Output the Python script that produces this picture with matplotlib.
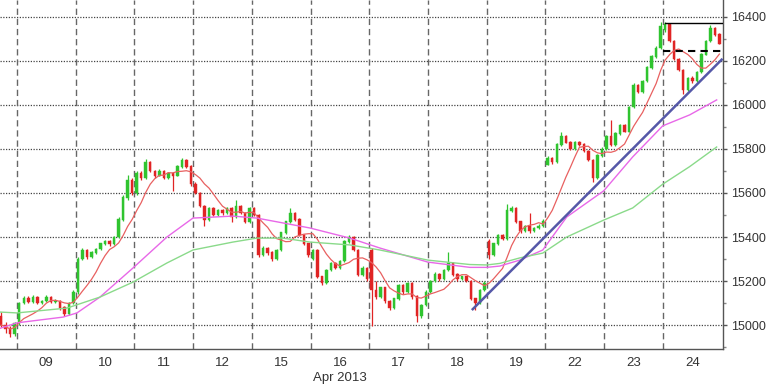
import matplotlib
matplotlib.use("Agg")
import matplotlib.pyplot as plt
import numpy as np
import pandas as pd

# ---------------- data (30-minute bars) ----------------
day_labels = ["09", "10", "11", "12", "15", "16\nApr 2013", "17", "18", "19", "22", "23", "24"]

# partial day before the 9th
o_08 = [15040, 15000, 14985, 14960]
c_08 = [15000, 14985, 14960, 15010]
h_08 = [15060, 15015, 14995, 15015]
l_08 = [14990, 14965, 14945, 14950]

o_09 = [15010, 15100, 15120, 15105, 15125, 15100, 15110, 15125, 15105, 15110, 15080, 15050, 15100]
c_09 = [15100, 15120, 15105, 15125, 15100, 15110, 15125, 15105, 15110, 15080, 15050, 15100, 15150]
h_09 = [15105, 15130, 15130, 15135, 15130, 15115, 15135, 15130, 15120, 15115, 15085, 15105, 15160]
l_09 = [15000, 15095, 15100, 15100, 15095, 15095, 15105, 15100, 15100, 15070, 15040, 15045, 15095]

o_10 = [15150, 15300, 15340, 15310, 15330, 15345, 15370, 15380, 15370, 15400, 15480, 15580, 15660]
c_10 = [15300, 15340, 15310, 15330, 15345, 15370, 15380, 15370, 15400, 15480, 15580, 15660, 15600]
h_10 = [15310, 15350, 15345, 15335, 15350, 15375, 15385, 15385, 15405, 15490, 15590, 15680, 15670]
l_10 = [15140, 15295, 15300, 15305, 15325, 15340, 15365, 15360, 15365, 15395, 15475, 15570, 15590]

o_11 = [15600, 15690, 15670, 15740, 15700, 15680, 15700, 15670, 15690, 15680, 15720, 15750, 15720]
c_11 = [15690, 15670, 15740, 15700, 15680, 15700, 15670, 15690, 15680, 15720, 15750, 15720, 15640]
h_11 = [15700, 15700, 15755, 15745, 15705, 15710, 15705, 15695, 15695, 15725, 15760, 15755, 15725]
l_11 = [15590, 15660, 15665, 15695, 15670, 15675, 15665, 15665, 15610, 15675, 15715, 15715, 15630]

o_12 = [15640, 15600, 15540, 15480, 15530, 15500, 15520, 15510, 15530, 15490, 15540, 15510, 15470]
c_12 = [15600, 15540, 15480, 15530, 15500, 15520, 15510, 15530, 15490, 15540, 15510, 15470, 15530]
h_12 = [15650, 15605, 15545, 15535, 15535, 15525, 15525, 15535, 15535, 15570, 15545, 15515, 15535]
l_12 = [15595, 15535, 15450, 15475, 15495, 15495, 15500, 15505, 15470, 15485, 15505, 15465, 15465]

o_15 = [15530, 15500, 15320, 15350, 15330, 15300, 15340, 15420, 15470, 15510, 15480, 15410, 15370]
c_15 = [15500, 15320, 15350, 15330, 15300, 15340, 15420, 15470, 15510, 15480, 15410, 15370, 15320]
h_15 = [15535, 15505, 15360, 15355, 15335, 15345, 15425, 15475, 15530, 15515, 15485, 15415, 15375]
l_15 = [15495, 15310, 15315, 15320, 15290, 15295, 15335, 15415, 15465, 15475, 15405, 15365, 15310]

o_16 = [15300, 15340, 15220, 15190, 15250, 15280, 15260, 15290, 15380, 15400, 15340, 15230, 15260]
c_16 = [15340, 15220, 15190, 15250, 15280, 15260, 15290, 15380, 15400, 15340, 15230, 15260, 15210]
h_16 = [15345, 15345, 15225, 15255, 15285, 15285, 15295, 15385, 15410, 15405, 15345, 15270, 15265]
l_16 = [15295, 15215, 15180, 15185, 15245, 15255, 15255, 15285, 15375, 15335, 15225, 15225, 15200]

o_17 = [15340, 15160, 15130, 15170, 15110, 15080, 15120, 15180, 15150, 15190, 15130, 15040, 15090]
c_17 = [15160, 15130, 15170, 15110, 15080, 15120, 15180, 15150, 15190, 15130, 15040, 15090, 15150]
h_17 = [15350, 15200, 15175, 15175, 15115, 15125, 15185, 15185, 15195, 15195, 15135, 15095, 15160]
l_17 = [14995, 15120, 15125, 15100, 15070, 15075, 15115, 15140, 15145, 15120, 15015, 15030, 15085]

o_18 = [15150, 15200, 15230, 15210, 15250, 15280, 15230, 15210, 15220, 15200, 15120, 15100, 15160]
c_18 = [15200, 15230, 15210, 15250, 15280, 15230, 15210, 15220, 15200, 15120, 15100, 15160, 15190]
h_18 = [15205, 15240, 15235, 15255, 15330, 15285, 15235, 15225, 15225, 15205, 15125, 15165, 15200]
l_18 = [15145, 15195, 15200, 15205, 15245, 15225, 15200, 15205, 15195, 15115, 15070, 15095, 15155]

o_19 = [15380, 15320, 15370, 15410, 15390, 15520, 15530, 15470, 15430, 15450, 15430, 15440, 15450]
c_19 = [15320, 15370, 15410, 15390, 15520, 15530, 15470, 15430, 15450, 15430, 15440, 15450, 15470]
h_19 = [15390, 15375, 15415, 15415, 15550, 15540, 15535, 15475, 15455, 15510, 15445, 15460, 15480]
l_19 = [15300, 15315, 15365, 15385, 15385, 15515, 15465, 15420, 15425, 15420, 15425, 15435, 15445]

o_22 = [15730, 15760, 15740, 15820, 15860, 15830, 15800, 15830, 15820, 15790, 15750, 15670, 15770]
c_22 = [15760, 15740, 15820, 15860, 15830, 15800, 15830, 15820, 15790, 15750, 15670, 15770, 15800]
h_22 = [15770, 15765, 15825, 15875, 15865, 15835, 15835, 15835, 15825, 15795, 15755, 15775, 15810]
l_22 = [15725, 15730, 15735, 15815, 15825, 15795, 15795, 15815, 15785, 15745, 15650, 15665, 15765]

o_23 = [15800, 15860, 15820, 15870, 15910, 15880, 15990, 16090, 16060, 16110, 16170, 16220, 16260]
c_23 = [15860, 15820, 15870, 15910, 15880, 15990, 16090, 16060, 16110, 16170, 16220, 16260, 16360]
h_23 = [15865, 15930, 15875, 15915, 15915, 15995, 16100, 16095, 16115, 16175, 16225, 16270, 16375]
l_23 = [15795, 15815, 15815, 15865, 15875, 15875, 15985, 16055, 16055, 16105, 16165, 16215, 16255]

o_24 = [16340, 16365, 16290, 16210, 16160, 16070, 16120, 16110, 16150, 16230, 16290, 16350, 16320]
c_24 = [16365, 16290, 16210, 16160, 16070, 16120, 16110, 16150, 16230, 16290, 16350, 16320, 16280]
h_24 = [16375, 16370, 16295, 16215, 16165, 16125, 16130, 16155, 16235, 16295, 16365, 16355, 16325]
l_24 = [16330, 16285, 16205, 16155, 16050, 16065, 16100, 16105, 16145, 16225, 16285, 16315, 16275]

# longer moving averages (bar position, value)
ma_pink_x = [-0.26, 3.5, 13.68, 16.78, 21.87, 29.17, 36.7, 42.45, 51.3, 56.61, 62.36, 68.34, 77.19, 83.83,
             94.45, 103.74, 107.51, 110.38, 114.81, 119.9, 125.21, 133.4, 139.81, 146.45, 152.43, 158.4]
ma_pink_y = [14985, 15010, 15036, 15055, 15127, 15259, 15400, 15486, 15495, 15486, 15464, 15441, 15395, 15350,
             15286, 15262, 15262, 15268, 15295, 15341, 15491, 15610, 15764, 15905, 15955, 16023]
ma_green_x = [-0.26, 3.5, 14.57, 21.87, 29.17, 36.7, 42.45, 51.3, 56.61, 62.36, 68.34, 77.19, 83.83,
              94.45, 103.74, 107.51, 110.38, 114.81, 119.9, 125.21, 133.4, 139.81, 146.45, 152.43, 158.4]
ma_green_y = [15059, 15055, 15077, 15127, 15195, 15282, 15341, 15377, 15395, 15395, 15377, 15364, 15341,
              15295, 15275, 15273, 15280, 15305, 15327, 15400, 15477, 15532, 15640, 15720, 15809]

trend_x = [104.2, 159.7]
trend_y = [15068, 16210]
resist_solid = 16373
resist_dash = 16245
resist_start = 146.9

# ---------------- assemble ----------------
opens = np.array(o_08 + o_09 + o_10 + o_11 + o_12 + o_15 + o_16 + o_17 + o_18 + o_19 + o_22 + o_23 + o_24, float)
closes = np.array(c_08 + c_09 + c_10 + c_11 + c_12 + c_15 + c_16 + c_17 + c_18 + c_19 + c_22 + c_23 + c_24, float)
highs = np.array(h_08 + h_09 + h_10 + h_11 + h_12 + h_15 + h_16 + h_17 + h_18 + h_19 + h_22 + h_23 + h_24, float)
lows = np.array(l_08 + l_09 + l_10 + l_11 + l_12 + l_15 + l_16 + l_17 + l_18 + l_19 + l_22 + l_23 + l_24, float)
x = np.arange(len(closes))
n_pre = len(o_08)
bars_per_day = len(o_09)

fig = plt.figure(figsize=(7.68, 3.84), dpi=100)
ax = fig.add_axes([0.0, 0.0911, 723 / 768, 0.9089])

GREEN = "#2fc42f"
RED = "#e02424"
up = closes >= opens
col = np.where(up, GREEN, RED)

# gridlines
for v in range(15000, 16401, 200):
    ax.axhline(v, color="#444444", lw=0.9, ls=(0, (1, 1.2)), zorder=1)
for k in range(len(day_labels)):
    ax.axvline(n_pre - 0.5 + bars_per_day * k, color="#666666", lw=1.0, ls=(0, (4.5, 2.8)), zorder=1)

# candles
ax.vlines(x, lows, highs, colors=col, lw=0.9, zorder=3)
ax.bar(x, np.abs(closes - opens) + 2, bottom=np.minimum(opens, closes) - 1, width=0.55,
       color=col, edgecolor=col, linewidth=0.3, zorder=4)

# moving averages
red_ma = pd.Series(closes).rolling(8, min_periods=1).mean()
ax.plot(x, red_ma, color="#e86060", lw=0.9, zorder=5)
ax.plot(ma_pink_x, ma_pink_y, color="#e868e8", lw=1.0, zorder=5)
ax.plot(ma_green_x, ma_green_y, color="#8ada8a", lw=1.0, zorder=5)

# trendline and resistance
ax.plot(trend_x, trend_y, color="#5558a8", lw=1.8, zorder=6, solid_capstyle="butt")
ax.plot([resist_start, 159.8], [resist_solid, resist_solid], color="black", lw=1.0, zorder=6)
ax.plot([n_pre - 0.5 + bars_per_day * 11, 159.8], [resist_dash, resist_dash], color="black",
        lw=1.5, ls=(0, (3.5, 2.5)), zorder=6)

ax.set_xlim(-0.26, 159.8)
ax.set_ylim(14891, 16477)

# axes styling
for s in ["top", "left"]:
    ax.spines[s].set_visible(False)
for s in ["right", "bottom"]:
    ax.spines[s].set_color("#555555")
    ax.spines[s].set_linewidth(1.0)

ax.yaxis.tick_right()
ax.set_yticks(range(15000, 16401, 200))
ax.set_yticks(range(14900, 16401, 200), minor=True)
ax.tick_params(axis="y", which="major", length=3, width=1, color="#555555", pad=2.5,
               labelsize=9, labelcolor="#333333")
ax.tick_params(axis="y", which="minor", length=2, width=1, color="#888888")
centers = [n_pre - 0.5 + bars_per_day * k + bars_per_day / 2 for k in range(len(day_labels))]
ax.set_xticks(centers)
ax.set_xticklabels(day_labels, linespacing=1.25)
ax.tick_params(axis="x", length=0, pad=6, labelsize=9.5, labelcolor="#333333")
for t in ax.get_xticklabels() + ax.get_yticklabels():
    t.set_fontfamily("Liberation Sans")

fig.savefig("out.png", dpi=100)
